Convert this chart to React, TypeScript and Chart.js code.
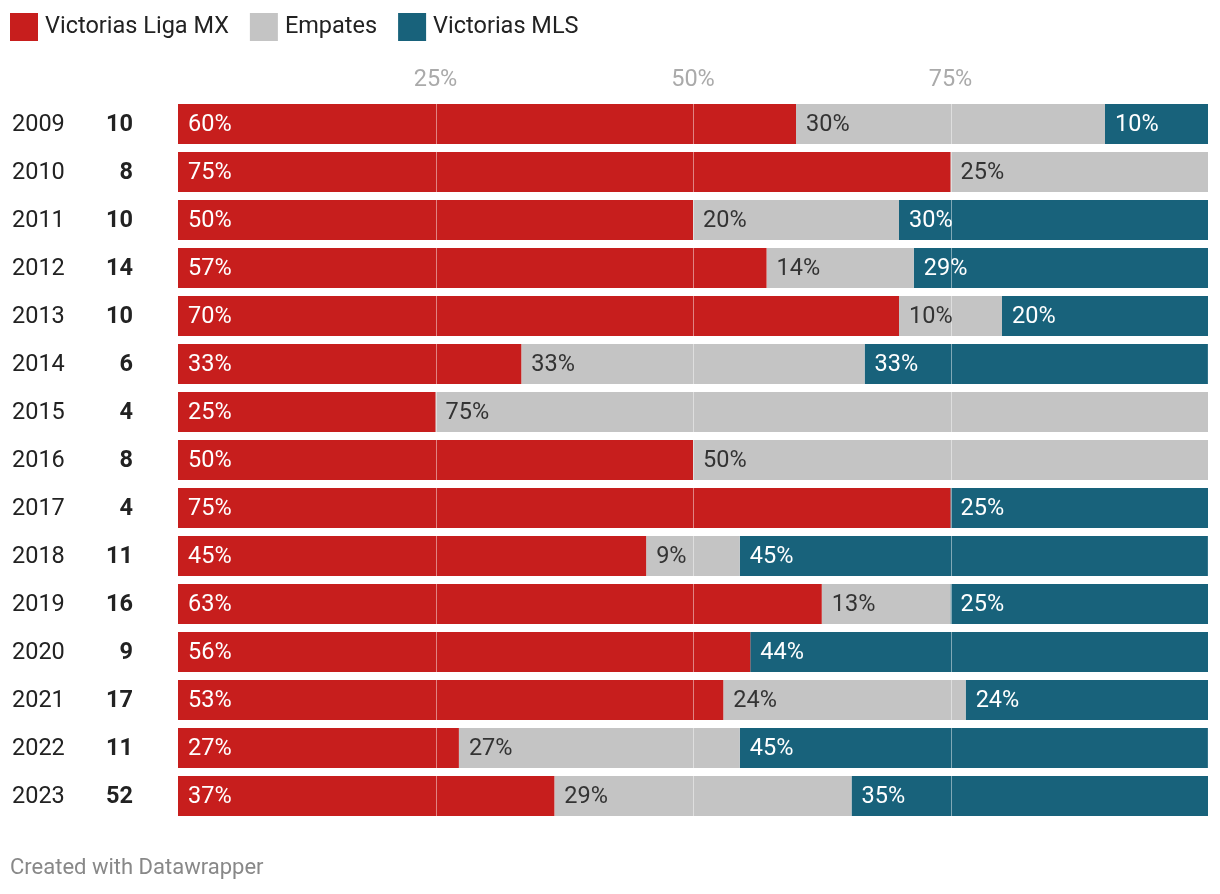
import React, { useEffect, useRef } from "react";
import { Chart, registerables } from "chart.js";

Chart.register(...registerables);

const years = ["2009","2010","2011","2012","2013","2014","2015","2016","2017","2018","2019","2020","2021","2022","2023"];
const matches = [10, 8, 10, 14, 10, 6, 4, 8, 4, 11, 16, 9, 17, 11, 52];
const ligaMx = [60, 75, 50, 57.14, 70, 33.33, 25, 50, 75, 45.45, 62.5, 55.56, 52.94, 27.27, 36.54];
const empates = [30, 25, 20, 14.29, 10, 33.33, 75, 50, 0, 9.09, 12.5, 0, 23.53, 27.27, 28.85];
const mls = [10, 0, 30, 28.57, 20, 33.33, 0, 0, 25, 45.45, 25, 44.44, 23.53, 45.45, 34.62];
const xTicks = [25, 50, 75];
const seriesNames = ["Victorias Liga MX", "Empates", "Victorias MLS"];
const seriesColors = ["#c71e1d", "#c4c4c4", "#18627b"];
const labelColors = ["#ffffff", "#333333", "#ffffff"];

const FONT = "Roboto, 'Noto Sans', sans-serif";

const overlayPlugin = {
  id: "overlay",
  afterDatasetsDraw(chart: any) {
    const ctx = chart.ctx;
    const xs = chart.scales.x;
    const ys = chart.scales.y;
    const area = chart.chartArea;
    ctx.save();
    // gridlines over bars
    ctx.strokeStyle = "rgba(255,255,255,0.45)";
    ctx.lineWidth = 1;
    xTicks.forEach((t) => {
      const x = Math.round(xs.getPixelForValue(t)) + 0.5;
      ctx.beginPath();
      ctx.moveTo(x, area.top);
      ctx.lineTo(x, area.bottom);
      ctx.stroke();
    });
    // tick labels
    ctx.fillStyle = "#aaaaaa";
    ctx.font = `23.5px ${FONT}`;
    ctx.textAlign = "center";
    ctx.textBaseline = "middle";
    xTicks.forEach((t) => {
      ctx.fillText(`${t}%`, xs.getPixelForValue(t), 80);
    });
    // data labels
    ctx.font = `23.5px ${FONT}`;
    ctx.textAlign = "left";
    chart.data.datasets.forEach((ds: any, di: number) => {
      const meta = chart.getDatasetMeta(di);
      meta.data.forEach((el: any, i: number) => {
        const v = ds.data[i];
        if (!v) return;
        const left = Math.min(el.x, el.base);
        ctx.fillStyle = labelColors[di];
        ctx.fillText(`${Math.round(v)}%`, left + 10, el.y + 1);
      });
    });
    // row labels
    years.forEach((yr, i) => {
      const y = ys.getPixelForValue(i) + 1;
      ctx.fillStyle = "#222222";
      ctx.font = `23.5px ${FONT}`;
      ctx.textAlign = "left";
      ctx.fillText(yr, 12, y);
      ctx.font = `bold 23.5px ${FONT}`;
      ctx.textAlign = "right";
      ctx.fillText(String(matches[i]), 133, y);
    });
    // legend
    let lx = 10;
    ctx.font = `23.5px ${FONT}`;
    ctx.textAlign = "left";
    seriesNames.forEach((name, i) => {
      ctx.fillStyle = seriesColors[i];
      ctx.fillRect(lx, 13, 28, 28);
      ctx.fillStyle = "#222222";
      ctx.fillText(name, lx + 35, 27);
      lx = lx + 35 + ctx.measureText(name).width + 21;
    });
    // footer
    ctx.fillStyle = "#888888";
    ctx.font = `22px ${FONT}`;
    ctx.fillText("Created with Datawrapper", 10, 868);
    ctx.restore();
  },
};

export default function App() {
  const ref = useRef<HTMLCanvasElement | null>(null);
  useEffect(() => {
    if (!ref.current) return;
    const chart = new Chart(ref.current, {
      type: "bar",
      data: {
        labels: years,
        datasets: [ligaMx, empates, mls].map((d, i) => ({
          label: seriesNames[i],
          data: d,
          backgroundColor: seriesColors[i],
          borderWidth: 0,
          categoryPercentage: 1,
          barPercentage: 40 / 48,
        })),
      },
      options: {
        indexAxis: "y",
        animation: false,
        responsive: false,
        maintainAspectRatio: false,
        layout: { padding: { left: 178, right: 12, top: 100, bottom: 74 } },
        plugins: { legend: { display: false }, tooltip: { enabled: false } },
        scales: {
          x: { stacked: true, min: 0, max: 100, display: false },
          y: { stacked: true, display: false },
        },
      },
      plugins: [overlayPlugin],
    } as any);
    return () => chart.destroy();
  }, []);
  return (
    <div style={{ position: "fixed", left: 0, top: 0, width: 1220, height: 894, background: "#fff" }}>
      <canvas ref={ref} width={1220} height={894} style={{ width: 1220, height: 894, display: "block" }} />
    </div>
  );
}
